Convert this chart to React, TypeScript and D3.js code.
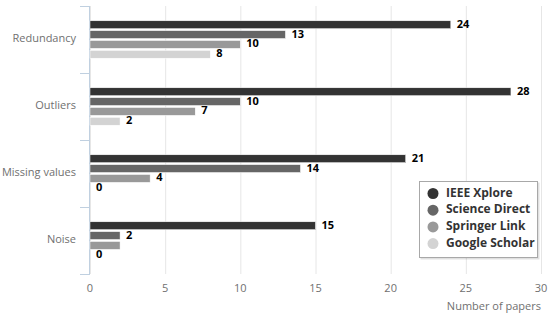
import React, { useEffect, useRef } from 'react';
import * as d3 from 'd3';

const categories = ['Redundancy', 'Outliers', 'Missing values', 'Noise'];
const seriesNames = ['IEEE Xplore', 'Science Direct', 'Springer Link', 'Google Scholar'];
const seriesColors = ['#333333', '#666666', '#999999', '#d3d3d3'];
// values per series, in category order
const ieee = [24, 28, 21, 15];
const scienceDirect = [13, 10, 14, 2];
const springer = [10, 7, 4, 2];
const google = [8, 2, 0, 0];
const xTicks = [0, 5, 10, 15, 20, 25, 30];

const FONT = '"Open Sans", "DejaVu Sans", sans-serif';

const App: React.FC = () => {
  const svgRef = useRef<SVGSVGElement>(null);

  useEffect(() => {
    if (!svgRef.current) return;
    const svg = d3.select(svgRef.current);
    svg.selectAll('*').remove();

    const series = [ieee, scienceDirect, springer, google];
    const left = 90;
    const right = 541;
    const top = 6;
    const bottom = 274;

    const x = d3.scaleLinear().domain([0, 30]).range([left, right]);
    const y = d3.scaleBand().domain(categories).range([top, bottom]);
    const inner = d3
      .scaleBand<number>()
      .domain(d3.range(series.length))
      .range([0, y.bandwidth()])
      .paddingOuter(1.5)
      .paddingInner(0.2);

    // grid lines
    svg
      .append('g')
      .selectAll('line')
      .data(xTicks)
      .join('line')
      .attr('x1', d => x(d) + 0.5)
      .attr('x2', d => x(d) + 0.5)
      .attr('y1', top)
      .attr('y2', bottom)
      .attr('stroke', '#e6e6e6')
      .attr('stroke-width', 1);

    // left axis line and ticks
    svg
      .append('line')
      .attr('x1', left - 0.5)
      .attr('x2', left - 0.5)
      .attr('y1', top)
      .attr('y2', bottom)
      .attr('stroke', '#c0d0e0');
    const catEdges = [...categories.map(c => y(c) as number), bottom];
    svg
      .append('g')
      .selectAll('line')
      .data(catEdges)
      .join('line')
      .attr('x1', left - 10)
      .attr('x2', left)
      .attr('y1', d => d + 0.5)
      .attr('y2', d => d + 0.5)
      .attr('stroke', '#c0d0e0');

    // category labels
    svg
      .append('g')
      .selectAll('text')
      .data(categories)
      .join('text')
      .attr('x', left - 14)
      .attr('y', d => (y(d) as number) + y.bandwidth() / 2)
      .attr('text-anchor', 'end')
      .attr('dominant-baseline', 'middle')
      .attr('fill', '#707070')
      .attr('font-size', '11px')
      .attr('font-family', FONT)
      .text(d => d);

    // x tick labels
    svg
      .append('g')
      .selectAll('text')
      .data(xTicks)
      .join('text')
      .attr('x', d => x(d))
      .attr('y', 292)
      .attr('text-anchor', 'middle')
      .attr('fill', '#707070')
      .attr('font-size', '11px')
      .attr('font-family', FONT)
      .text(d => d);

    svg
      .append('text')
      .attr('x', right)
      .attr('y', 310)
      .attr('text-anchor', 'end')
      .attr('fill', '#707070')
      .attr('font-size', '11px')
      .attr('font-family', FONT)
      .text('Number of papers');

    // bars
    const placed: { x0: number; x1: number; y0: number; y1: number }[] = [];
    const labels: { x: number; y: number; text: string }[] = [];
    series.forEach((vals, si) => {
      vals.forEach((v, ci) => {
        const by = (y(categories[ci]) as number) + (inner(si) as number);
        const bh = inner.bandwidth();
        svg
          .append('rect')
          .attr('x', x(0))
          .attr('y', by)
          .attr('width', x(v) - x(0))
          .attr('height', bh)
          .attr('fill', seriesColors[si])
          .attr('stroke', '#fff')
          .attr('stroke-width', v > 0 ? 0.5 : 0);
        const lx = x(v) + 6;
        const ly = by + bh / 2;
        const w = String(v).length * 7;
        const box = { x0: lx, x1: lx + w, y0: ly - 6, y1: ly + 6 };
        const hit = placed.some(
          p => box.x0 < p.x1 && box.x1 > p.x0 && box.y0 < p.y1 && box.y1 > p.y0
        );
        if (!hit) {
          placed.push(box);
          labels.push({ x: lx, y: ly, text: String(v) });
        }
      });
    });

    svg
      .append('g')
      .selectAll('text')
      .data(labels)
      .join('text')
      .attr('x', d => d.x)
      .attr('y', d => d.y)
      .attr('dominant-baseline', 'middle')
      .attr('fill', '#000')
      .attr('font-size', '11px')
      .attr('font-weight', 'bold')
      .attr('font-family', FONT)
      .text(d => d.text);

    // legend
    const lg = svg.append('g').attr('transform', 'translate(419,181)');
    lg.append('rect')
      .attr('x', 1.5)
      .attr('y', 1.5)
      .attr('width', 119)
      .attr('height', 77)
      .attr('fill', 'rgba(0,0,0,0.12)');
    lg.append('rect')
      .attr('x', 0.5)
      .attr('y', 0.5)
      .attr('width', 118)
      .attr('height', 76)
      .attr('fill', '#fff')
      .attr('stroke', '#a8a8a8');
    seriesNames.forEach((name, i) => {
      const cy = 12.5 + i * 16.7;
      lg.append('circle')
        .attr('cx', 14)
        .attr('cy', cy)
        .attr('r', 5.5)
        .attr('fill', seriesColors[i]);
      lg.append('text')
        .attr('x', 27)
        .attr('y', cy)
        .attr('dominant-baseline', 'middle')
        .attr('fill', '#333')
        .attr('font-size', '12px')
        .attr('font-weight', 'bold')
        .attr('font-family', FONT)
        .text(name);
    });
  }, []);

  return (
    <svg
      ref={svgRef}
      width="550"
      height="317"
      style={{ position: 'absolute', left: 0, top: 0, background: '#fff' }}
    />
  );
};

export default App;
